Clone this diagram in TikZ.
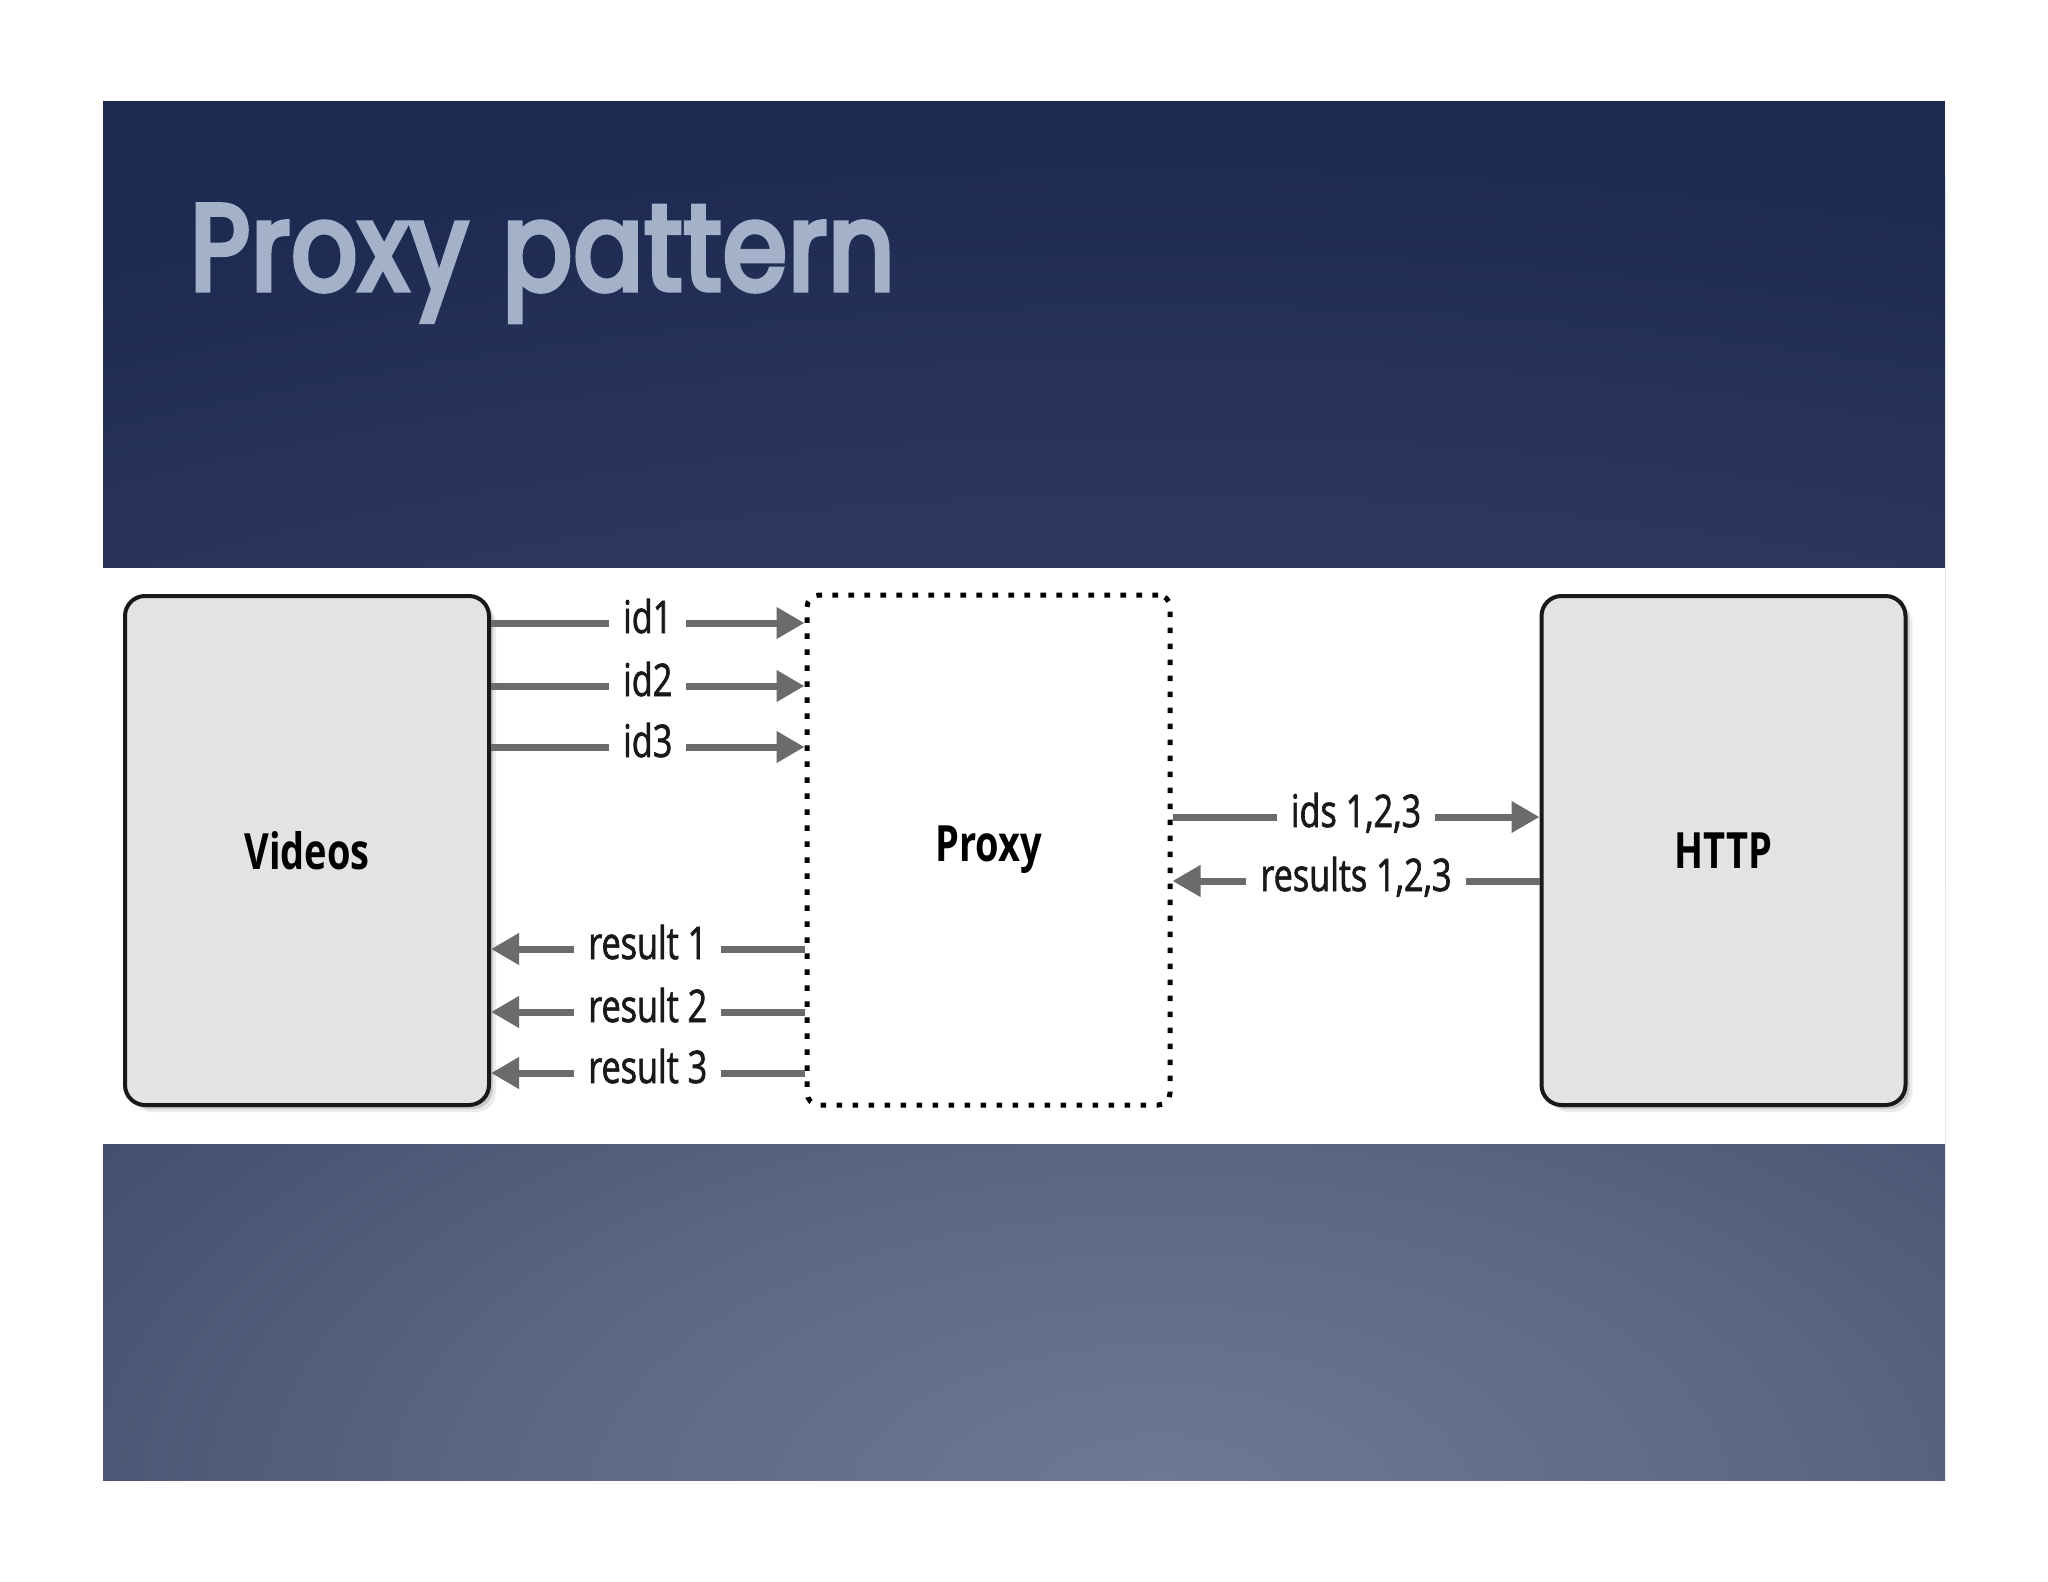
\documentclass[tikz,border=0pt]{standalone}
\usepackage{fontspec}
\usetikzlibrary{arrows.meta,shadows,calc}
\newfontfamily\lblfont[FakeStretch=0.76]{Open Sans}
\newfontfamily\lblmedfont[FakeStretch=0.76,FakeBold=1.5]{Open Sans}
\newfontfamily\titlefont[FakeStretch=0.84,FakeBold=4.5,LetterSpace=1.5,WordSpace=1.2]{Poppins}
\definecolor{arrowgray}{HTML}{6B6B6E}
\definecolor{boxfill}{HTML}{E3E3E5}
\definecolor{titlecol}{HTML}{A3B1C9}
\definecolor{bgA}{HTML}{6F7997}
\definecolor{bgB}{HTML}{5D6784}
\definecolor{bgC}{HTML}{4B5474}
\definecolor{bgD}{HTML}{2F3A5F}
\definecolor{bgE}{HTML}{1C2950}
\pgfdeclareradialshading{slidebg}{\pgfpoint{0bp}{0bp}}{color(0bp)=(bgA); color(6bp)=(bgB); color(10bp)=(bgC); color(16.5bp)=(bgD); color(25bp)=(bgE); color(50bp)=(bgE)}
\begin{document}
\begin{tikzpicture}[x=0.5pt,y=-0.5pt,
  card/.style={draw=black!90, line width=2pt, rounded corners=10pt, fill=boxfill,
    minimum width=182pt, minimum height=254.5pt, inner sep=0pt,
    font=\lblfont\bfseries\fontsize{25}{30}\selectfont,
    drop shadow={shadow xshift=2pt,shadow yshift=-2pt,opacity=0.3},
    drop shadow={shadow xshift=3.5pt,shadow yshift=-3.5pt,opacity=0.15}},
  proxybox/.style={draw=black, line width=2.5pt, dash pattern=on 2.8pt off 5.2pt,
    rounded corners=6pt, minimum width=181.5pt, minimum height=255pt, inner sep=0pt,
    font=\lblfont\bfseries\fontsize{25}{30}\selectfont},
  flow/.style={draw=arrowgray, line width=3.5pt, -{Triangle[length=14pt,width=15pt]}},
  back/.style={draw=arrowgray, line width=3.5pt, {Triangle[length=14pt,width=15pt]}-},
  lbl/.style={fill=white, inner xsep=7pt, inner ysep=1pt, anchor=base, yshift=-5pt,
    text=black!90, font=\lblmedfont\fontsize{22.5}{27}\selectfont}
]
\useasboundingbox (0,0) rectangle (2048,1582);
\fill[white] (0,0) rectangle (2048,1582);
% slide background
\begin{scope}
  \clip (103,101) rectangle (1945,1480);
  \fill[bgE] (103,101) rectangle (1945,1480);
  \shade[shading=slidebg] (1160,1500) ellipse [x radius=1380pt, y radius=690pt];
\end{scope}
\fill[white] (103,568) rectangle (1945,1144);
% title
\node[anchor=base west, inner sep=0pt, text=titlecol,
  font=\titlefont\fontsize{61}{70}\selectfont] (title) at (190,290) {Proxy pattern};
% boxes
\node[card] (videos) at (307,850.5) {Videos};
\node[proxybox] (proxy) at (988.5,850) {Proxy};
\node[card] (http) at (1723.5,850.5) {HTTP};
% left arrows
\draw[flow] (videos.east |- 0,623) -- node[lbl]{id1} (proxy.west |- 0,623);
\draw[flow] (videos.east |- 0,686) -- node[lbl]{id2} (proxy.west |- 0,686);
\draw[flow] (videos.east |- 0,747) -- node[lbl]{id3} (proxy.west |- 0,747);
\draw[back] (videos.east |- 0,949) -- node[lbl]{result 1} (proxy.west |- 0,949);
\draw[back] (videos.east |- 0,1012) -- node[lbl]{result 2} (proxy.west |- 0,1012);
\draw[back] (videos.east |- 0,1073) -- node[lbl]{result 3} (proxy.west |- 0,1073);
% right arrows
\draw[flow] (proxy.east |- 0,817) -- node[lbl]{ids 1,2,3} (http.west |- 0,817);
\draw[back] (proxy.east |- 0,881) -- node[lbl]{results 1,2,3} (http.west |- 0,881);
\end{tikzpicture}
\end{document}
